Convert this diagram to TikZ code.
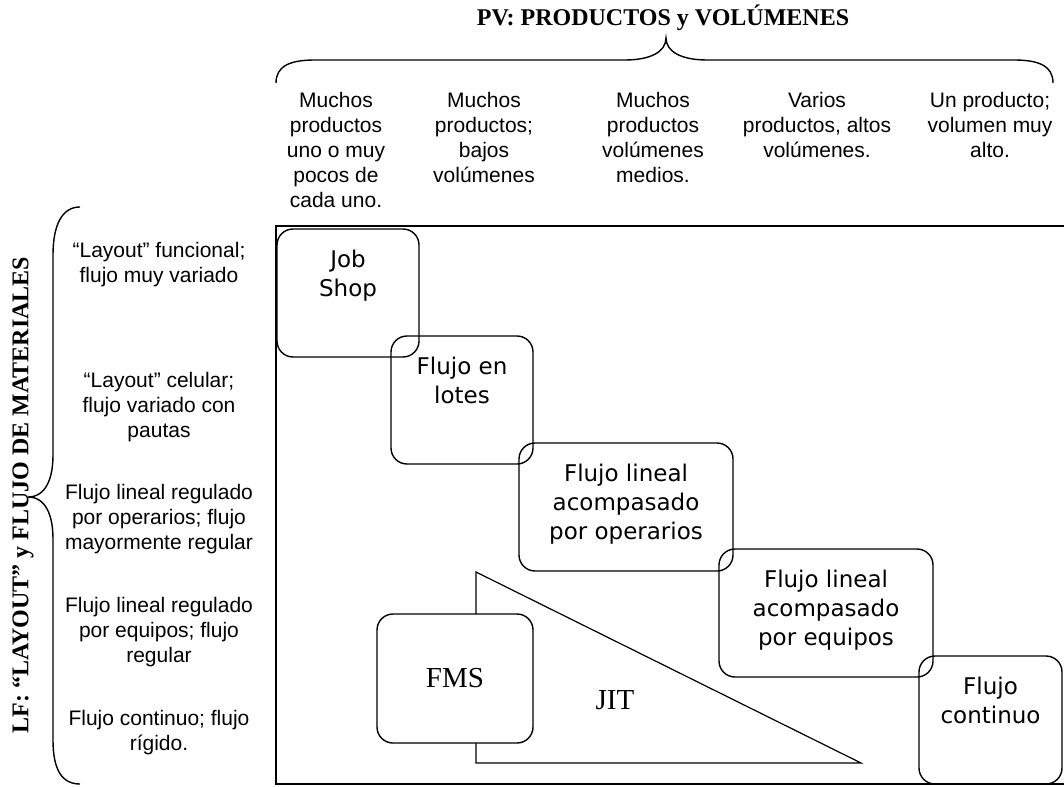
\documentclass[tikz,border=0pt]{standalone}
\usepackage{fontspec}
\setmainfont{Liberation Serif}
\newfontfamily\arialfont{Liberation Sans}
\newfontfamily\verdfont{DejaVu Sans}
\usetikzlibrary{positioning}

\begin{document}
\begin{tikzpicture}[x=1pt, y=-1pt, line width=1.4pt, head/.style = {font=\bfseries\fontsize{24}{28}\selectfont, inner sep=0pt}, coltext/.style = {anchor=north, align=center, inner sep=0pt, font=\arialfont\fontsize{21}{25}\selectfont}, cell/.style = {draw, rounded corners=16pt, fill=none, inner sep=0pt}, celltext/.style = {align=center, inner sep=0pt, font=\verdfont\fontsize{23}{29}\selectfont}, big/.style = {font=\fontsize{29}{34}\selectfont}]

\useasboundingbox (0,0) rectangle (1064,786);

\node[head] (pv) at (663,18) {PV: PRODUCTOS y VOLÚMENES};
\node[head, rotate=90] (lf) at (23,495) {LF: “LAYOUT” y FLUJO DE MATERIALES};

\draw (276,83) .. controls (276,66) and (290,60) .. (315,60) -- (625,60) .. controls (650,60) and (666,52) .. (666,38) .. controls (666,52) and (682,60) .. (707,60) -- (1014,60) .. controls (1039,60) and (1053,66) .. (1053,83);
\draw (80,207) .. controls (62,207) and (53,225) .. (53,255) -- (53,455) .. controls (53,480) and (45,497) .. (28,497) .. controls (45,497) and (53,514) .. (53,539) -- (53,740) .. controls (53,770) and (62,784) .. (80,784);

\node[coltext] (pv1) at (336,92) {Muchos\\productos\\uno o muy\\pocos de\\cada uno.};
\node[coltext] (pv2) at (484,92) {Muchos\\productos;\\bajos\\volúmenes};
\node[coltext] (pv3) at (653,92) {Muchos\\productos\\volúmenes\\medios.};
\node[coltext] (pv4) at (817,92) {Varios\\productos, altos\\volúmenes.};
\node[coltext] (pv5) at (990,92) {Un producto;\\volumen muy\\alto.};

\node[coltext] (lf1) at (159,242) {“Layout” funcional;\\flujo muy variado};
\node[coltext] (lf2) at (159,372) {“Layout” celular;\\flujo variado con\\pautas};
\node[coltext] (lf3) at (159,484) {Flujo lineal regulado\\por operarios; flujo\\mayormente regular};
\node[coltext] (lf4) at (159,597) {Flujo lineal regulado\\por equipos; flujo\\regular};
\node[coltext] (lf5) at (159,710) {Flujo continuo; flujo\\rígido.};

\draw (1070,226) -- (276,226) -- (276,784) -- (1070,784);
\draw[line width=1.2pt] (476,572) -- (476,763) -- (861,763) -- cycle;

\node[cell, fill=white, big, minimum width=156pt, minimum height=129pt] (fms) at (455,678.5) {FMS};
\node[big] (jit) at (615,700) {JIT};

\node[cell, minimum width=142pt, minimum height=128pt] (job) at (348,293) {};
\node[cell, minimum width=142pt, minimum height=128pt] (lotes) at (462,400) {};
\node[cell, minimum width=214pt, minimum height=128pt] (oper) at (626,507) {};
\node[cell, minimum width=214pt, minimum height=128pt] (equip) at (826,613) {};
\node[cell, minimum width=143pt, minimum height=128pt] (cont) at (990.5,720) {};

\node[celltext, below=21pt of job.north] (jobtxt) {Job\\Shop};
\node[celltext, below=21pt of lotes.north] (lotestxt) {Flujo en\\lotes};
\node[celltext, below=21pt of oper.north] (opertxt) {Flujo lineal\\acompasado\\por operarios};
\node[celltext, below=21pt of equip.north] (equiptxt) {Flujo lineal\\acompasado\\por equipos};
\node[celltext, below=21pt of cont.north] (conttxt) {Flujo\\continuo};
\end{tikzpicture}
\end{document}
